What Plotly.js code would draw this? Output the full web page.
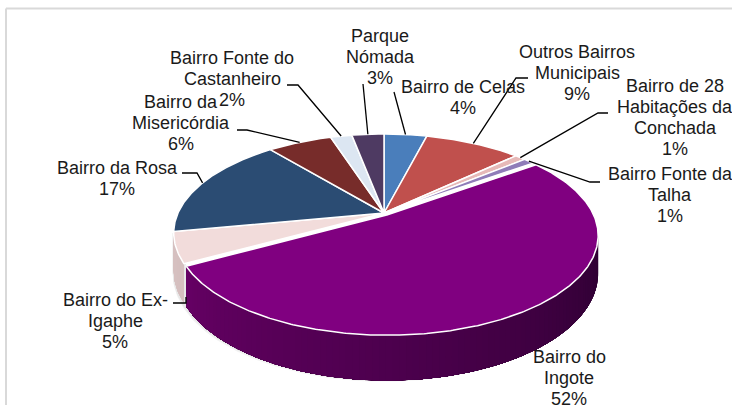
<!DOCTYPE html>
<html>
<head>
<meta charset="utf-8">
<script src="https://cdn.plot.ly/plotly-3.0.1.min.js"></script>
<style>
html,body{margin:0;padding:0;background:#fff;overflow:hidden;}
#chart{width:732px;height:405px;}
</style>
</head>
<body>
<div id="chart"></div>
<script>
// ---- data ----
const categories = ["Bairro de Celas", "Outros Bairros Municipais", "Bairro de 28 Habitações da Conchada", "Bairro Fonte da Talha", "Bairro do Ingote", "Bairro do Ex-Igaphe", "Bairro da Rosa", "Bairro da Misericórdia", "Bairro Fonte do Castanheiro", "Parque Nómada"];
const values = [4, 9, 1, 1, 52, 5, 17, 6, 2, 3];
const labelLines = [
  ["Bairro de Celas"],
  ["Outros Bairros", "Municipais"],
  ["Bairro de 28", "Habitações da", "Conchada"],
  ["Bairro Fonte da", "Talha"],
  ["Bairro do", "Ingote"],
  ["Bairro do Ex-", "Igaphe"],
  ["Bairro da Rosa"],
  ["Bairro da", "Misericórdia"],
  ["Bairro Fonte do", "Castanheiro"],
  ["Parque", "Nómada"]
];

// ---- styles ----
const topColors = ["#4a7ebb", "#c0504d", "#e6b9b8", "#8f7cb8", "#800080", "#f2dcdb", "#2b4c73", "#772c2a", "#dce6f2", "#4e3a62"];
const sideLeft  = ["#3a6396", "#983f3d", "#c89c9b", "#6f5f96", "rgb(108,0,106)", "rgb(214,192,192)", "#1f3a5a", "#5a2120", "#b8c3d0", "#3a2b4a"];
const sideRight = ["#3a6396", "#983f3d", "#c89c9b", "#6f5f96", "rgb(46,0,50)", "rgb(206,184,184)", "#1f3a5a", "#5a2120", "#b8c3d0", "#3a2b4a"];
const explode = [0, 0, 0, 0, 0.025, 0, 0, 0, 0, 0];

// geometry (pixels)
const CX = 384, CY = 213, A = 206, B = 95, K = 0.202, H = 36;
const FONT = "Liberation Sans, Arial, sans-serif";
const FS = 18, LINE = 21;
// label layout: center x, first baseline y
const labelPos = [[463, 93], [577, 58], [675, 92], [670, 180], [569, 363], [115, 306], [117, 174], [181, 108], [232, 64], [380, 42]];
// leader paths from label side toward slice
const leaderPaths = [
  [[394, 92]],
  [[528, 78], [516, 78]],
  [[608, 113], [598, 113]],
  [[600, 182], [590, 182]],
  null,
  [[173, 303], [186, 303], [186, 297]],
  [[182, 173], [197, 173]],
  [[237, 130], [247, 130]],
  [[287, 85], [298, 85]],
  [[363, 84]]
];
const leaderAttach = [true, true, true, true, false, false, true, true, true, true];

function proj(u, v) { const d = 1 + K * v; return [CX + A * u / d, CY - B * v / d, H / d]; }

const total = values.reduce((s, v) => s + v, 0);
let cum = 0;
const slices = values.map((v, i) => {
  const t0 = cum / total * 2 * Math.PI; cum += v;
  const t1 = cum / total * 2 * Math.PI;
  return { i, t0, t1, mid: (t0 + t1) / 2, e: explode[i] };
});
function edge(s, th) {
  const u = s.e * Math.sin(s.mid) + Math.sin(th);
  const v = s.e * Math.cos(s.mid) + Math.cos(th);
  return proj(u, v);
}
function vertex(s) { return proj(s.e * Math.sin(s.mid), s.e * Math.cos(s.mid)); }

function parseRGB(c) {
  if (c[0] === '#') return [parseInt(c.substr(1, 2), 16), parseInt(c.substr(3, 2), 16), parseInt(c.substr(5, 2), 16)];
  return c.match(/\d+/g).map(Number);
}
function mix(c1, c2, f) {
  const a = parseRGB(c1), b = parseRGB(c2);
  return 'rgb(' + a.map((x, j) => Math.round(x + (b[j] - x) * f)).join(',') + ')';
}

const traces = [];
const TV0 = Math.acos(-K), TV1 = 2 * Math.PI - TV0;

function bandPoly(s, a, b, grow) {
  const m = Math.max(3, Math.ceil((b - a) / (Math.PI / 180)));
  const xs = [], ys = [];
  for (let j = 0; j <= m; j++) { const p = edge(s, a + (b - a) * j / m); xs.push(p[0]); ys.push(p[1]); }
  for (let j = m; j >= 0; j--) { const p = edge(s, a + (b - a) * j / m); xs.push(p[0]); ys.push(p[1] + p[2] + grow); }
  xs.push(xs[0]); ys.push(ys[0]);
  return { xs, ys };
}

// soft shadow under the visible side
[[3.5, '#f3f3f3'], [2, '#e8e8e8']].forEach(([g, c]) => {
  const s0 = { e: 0, mid: 0 };
  const bp = bandPoly(s0, TV0, TV1, g);
  traces.push({ type: 'scatter', mode: 'lines', fill: 'toself', fillcolor: c, x: bp.xs, y: bp.ys,
    line: { color: c, width: 2 }, hoverinfo: 'skip', showlegend: false });
});

// side walls (overlapping strips for a smooth gradient)
slices.forEach(s => {
  const a = Math.max(s.t0, TV0), b = Math.min(s.t1, TV1);
  if (a >= b) return;
  const n = Math.max(2, Math.ceil((b - a) / (1.5 * Math.PI / 180)));
  for (let j = 0; j < n; j++) {
    const th0 = a + (b - a) * j / n;
    const f = ((th0 + (b - a) / n / 2) - TV0) / (TV1 - TV0); // 0 right .. 1 left
    const col = mix(sideRight[s.i], sideLeft[s.i], Math.max(0, Math.min(1, f)));
    const bp = bandPoly(s, th0, b, 0);
    traces.push({
      type: 'scatter', mode: 'lines', fill: 'toself', fillcolor: col,
      x: bp.xs, y: bp.ys, line: { color: col, width: 0 }, hoverinfo: 'skip', showlegend: false
    });
  }
});

// top faces
slices.forEach(s => {
  const vx = vertex(s);
  const xs = [vx[0]], ys = [vx[1]];
  const n = Math.max(4, Math.ceil((s.t1 - s.t0) / (0.5 * Math.PI / 180)));
  for (let j = 0; j <= n; j++) {
    const p = edge(s, s.t0 + (s.t1 - s.t0) * j / n);
    xs.push(p[0]); ys.push(p[1]);
  }
  xs.push(vx[0]); ys.push(vx[1]);
  traces.push({
    type: 'scatter', mode: 'lines', fill: 'toself', fillcolor: topColors[s.i],
    x: xs, y: ys, line: { color: '#ffffff', width: 1.5 },
    name: categories[s.i], hoverinfo: 'name', showlegend: false
  });
});

// leader lines
slices.forEach(s => {
  const path = leaderPaths[s.i];
  if (!path) return;
  const pts = path.slice();
  if (leaderAttach[s.i]) { const p = edge(s, s.mid); pts.push([p[0], p[1]]); }
  traces.push({
    type: 'scatter', mode: 'lines', x: pts.map(p => p[0]), y: pts.map(p => p[1]),
    line: { color: '#000000', width: 1.3 }, hoverinfo: 'skip', showlegend: false
  });
});

// labels
const annotations = [];
slices.forEach(s => {
  const lines = labelLines[s.i].concat([Math.round(values[s.i] / total * 100) + '%']);
  const [lx, ly] = labelPos[s.i];
  lines.forEach((t, j) => {
    annotations.push({
      x: lx, y: ly + j * LINE - 6, xref: 'x', yref: 'y', text: t, showarrow: false,
      xanchor: 'center', yanchor: 'middle', font: { family: FONT, size: FS, color: '#1a1a1a' }
    });
  });
});

const layout = {
  width: 732, height: 405,
  margin: { l: 0, r: 0, t: 0, b: 0 },
  paper_bgcolor: '#ffffff', plot_bgcolor: '#ffffff',
  xaxis: { range: [0, 732], visible: false, fixedrange: true },
  yaxis: { range: [405, 0], visible: false, fixedrange: true },
  showlegend: false,
  annotations: annotations,
  shapes: [
    { type: 'line', xref: 'x', yref: 'y', x0: 6, y0: 8.5, x1: 740, y1: 8.5, line: { color: '#d9d9d9', width: 2 }, layer: 'below' },
    { type: 'line', xref: 'x', yref: 'y', x0: 6, y0: 8.5, x1: 6, y1: 410, line: { color: '#d9d9d9', width: 2 }, layer: 'below' }
  ]
};

Plotly.newPlot('chart', traces, layout, { displayModeBar: false, staticPlot: true });
</script>
</body>
</html>
